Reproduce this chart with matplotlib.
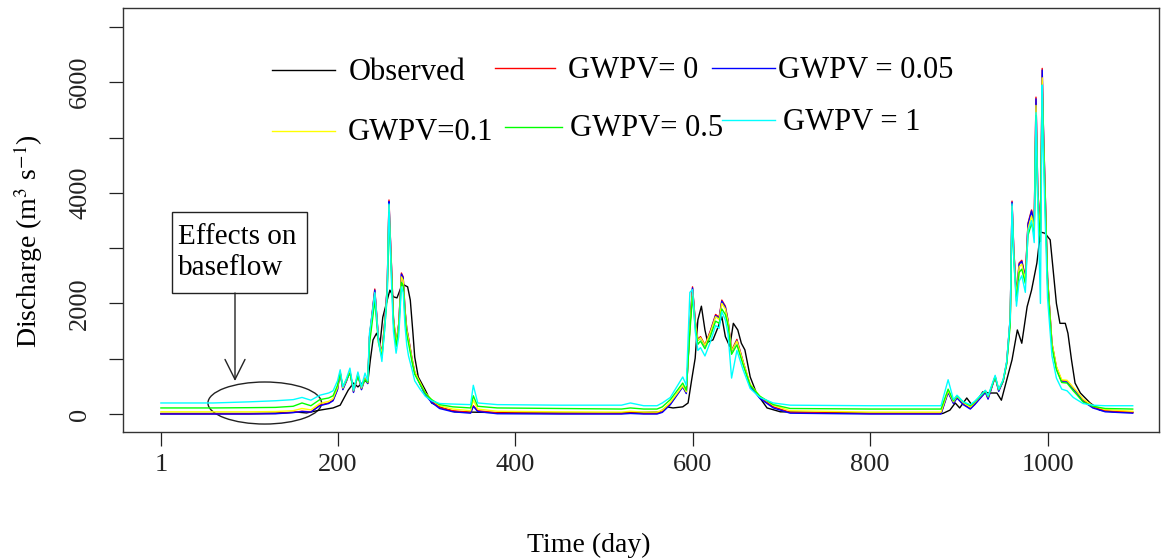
import matplotlib
matplotlib.use("Agg")
import matplotlib.pyplot as plt
from matplotlib.patches import Ellipse, Rectangle

plt.rcParams['font.family'] = ['Liberation Serif', 'DejaVu Serif']
plt.rcParams['mathtext.fontset'] = 'stix'

# Observed discharge (m3/s)
obs_days = [1, 50, 100, 130, 154, 165, 180, 195, 203, 212,
            218, 223, 231, 234, 237, 240, 244, 248, 251, 256,
            259, 263, 267, 273, 279, 282, 285, 287, 291, 299,
            306, 318, 332, 400, 500, 563, 571, 578, 589, 595,
            599, 603, 606, 610, 614, 617, 623, 629, 633, 637,
            642, 646, 651, 655, 659, 665, 672, 684, 699, 800,
            882, 890, 896, 901, 909, 915, 920, 927, 935, 943,
            948, 954, 960, 966, 971, 977, 982, 988, 992, 997,
            1003, 1006, 1010, 1014, 1020, 1023, 1027, 1031, 1037, 1048,
            1059, 1074, 1096]
obs_q = [10, 10, 10, 15, 35, 20, 70, 110, 160, 430,
         560, 490, 610, 560, 980, 1340, 1460, 1280, 1750, 2060,
         2240, 2120, 2100, 2350, 2300, 2060, 1460, 1030, 670, 430,
         200, 110, 40, 20, 15, 35, 130, 110, 130, 200,
         615, 1010, 1700, 1950, 1520, 1300, 1340, 1580, 1760, 1400,
         1220, 1640, 1520, 1280, 1160, 670, 380, 110, 40, 15,
         10, 70, 200, 110, 290, 160, 220, 400, 380, 380,
         250, 615, 980, 1520, 1280, 1940, 2240, 2730, 3290, 3270,
         3150, 2660, 2000, 1640, 1640, 1460, 980, 560, 380, 200,
         70, 40, 30]

# Simulated discharge for each GWPV value
sim_days = [1, 60, 100, 130, 150, 160, 170, 180, 190, 195,
            200, 203, 206, 210, 214, 218, 223, 227, 231, 234,
            236, 239, 242, 246, 250, 253, 256, 258, 259, 261,
            263, 266, 269, 272, 274, 276, 278, 280, 284, 287,
            293, 299, 306, 315, 330, 350, 353, 358, 380, 450,
            520, 530, 545, 560, 566, 575, 589, 593, 597, 600,
            603, 606, 609, 614, 620, 626, 630, 633, 637, 640,
            644, 650, 657, 665, 676, 691, 710, 800, 880, 888,
            894, 898, 905, 913, 918, 930, 933, 941, 945, 950,
            954, 958, 960, 962, 965, 968, 971, 975, 978, 982,
            985, 987, 989, 992, 994, 995, 997, 1000, 1005, 1010,
            1016, 1022, 1029, 1033, 1040, 1051, 1065, 1096]

q_gwpv_0 = [5, 5, 5, 10, 30, 50, 40, 160, 200, 250,
            450, 760, 450, 600, 780, 400, 720, 450, 650, 560,
            1400, 1820, 2260, 1400, 1100, 1640, 2300, 3870, 3420, 2600,
            1750, 1280, 1640, 2550, 2480, 1900, 1550, 1380, 1000, 760,
            560, 360, 230, 120, 60, 30, 150, 60, 20, 10,
            10, 20, 10, 10, 40, 180, 500, 380, 1600, 2300,
            1700, 1350, 1400, 1250, 1500, 1800, 1750, 2060, 1950, 1700,
            1150, 1350, 950, 520, 300, 130, 30, 10, 10, 400,
            200, 300, 180, 100, 180, 400, 280, 680, 420, 600,
            940, 1750, 3850, 2970, 2150, 2730, 2780, 2480, 3450, 3690,
            3450, 5730, 4050, 3300, 6250, 5400, 4230, 2480, 1280, 850,
            600, 600, 470, 400, 250, 130, 60, 30]

q_gwpv_005 = [0, 0, 0, 5, 25, 45, 35, 150, 190, 240,
              440, 750, 440, 590, 770, 390, 710, 440, 640, 550,
              1380, 1800, 2240, 1380, 1080, 1620, 2280, 3840, 3400, 2580,
              1730, 1260, 1620, 2530, 2460, 1880, 1530, 1360, 980, 740,
              540, 340, 210, 100, 40, 15, 140, 45, 5, 0,
              0, 10, 0, 0, 30, 170, 490, 370, 1580, 2280,
              1680, 1330, 1380, 1230, 1480, 1780, 1730, 2040, 1930, 1680,
              1130, 1330, 930, 500, 280, 110, 15, 0, 0, 390,
              190, 290, 170, 90, 170, 390, 270, 670, 410, 590,
              930, 1730, 3830, 2950, 2130, 2710, 2760, 2460, 3430, 3670,
              3430, 5700, 4030, 3280, 6220, 5380, 4210, 2460, 1260, 830,
              580, 580, 450, 380, 230, 110, 40, 15]

q_gwpv_01 = [40, 40, 40, 45, 60, 100, 75, 190, 230, 280,
             480, 760, 470, 610, 770, 420, 710, 470, 640, 570,
             1350, 1760, 2180, 1360, 1080, 1600, 2230, 3780, 3330, 2540,
             1720, 1270, 1610, 2480, 2420, 1860, 1520, 1350, 990, 760,
             570, 380, 260, 150, 90, 60, 250, 90, 50, 40,
             35, 50, 35, 35, 70, 210, 510, 400, 1560, 2230,
             1660, 1330, 1380, 1240, 1470, 1760, 1710, 2000, 1900, 1670,
             1140, 1320, 940, 540, 320, 160, 60, 35, 35, 420,
             220, 320, 210, 130, 210, 420, 310, 680, 440, 610,
             930, 1700, 3760, 2900, 2110, 2660, 2710, 2430, 3350, 3580,
             3360, 5580, 3960, 3230, 6080, 5260, 4130, 2440, 1280, 860,
             620, 610, 480, 410, 270, 150, 80, 50]

q_gwpv_05 = [110, 110, 115, 120, 140, 200, 150, 260, 290, 330,
             520, 740, 500, 620, 740, 460, 680, 500, 620, 580,
             1260, 1650, 2060, 1300, 1020, 1520, 2120, 3650, 3200, 2440,
             1650, 1220, 1540, 2380, 2320, 1780, 1440, 1280, 940, 720,
             540, 370, 260, 170, 130, 110, 330, 140, 110, 100,
             90, 110, 90, 90, 130, 260, 560, 430, 1480, 2130,
             1580, 1260, 1320, 1180, 1400, 1680, 1640, 1900, 1800, 1600,
             1080, 1250, 890, 520, 320, 170, 100, 90, 90, 450,
             240, 330, 220, 150, 220, 420, 320, 670, 440, 600,
             900, 1620, 3650, 2800, 2040, 2560, 2620, 2360, 3230, 3450,
             3240, 5400, 3840, 3120, 5900, 5100, 4000, 2360, 1210, 800,
             570, 560, 420, 350, 220, 140, 100, 90]

q_gwpv_1 = [200, 200, 220, 240, 260, 300, 250, 340, 380, 420,
            600, 800, 490, 640, 830, 430, 760, 490, 740, 600,
            1460, 1800, 2200, 1350, 950, 1500, 2200, 3800, 3300, 2300,
            1500, 1100, 1400, 2300, 2200, 1600, 1250, 1050, 800, 600,
            450, 320, 240, 190, 180, 170, 520, 200, 170, 160,
            160, 200, 150, 150, 200, 300, 670, 520, 2200, 2250,
            1500, 1150, 1200, 1050, 1300, 1600, 1550, 1850, 1700, 1450,
            650, 1150, 800, 460, 300, 200, 160, 150, 150, 620,
            260, 340, 220, 170, 230, 430, 330, 700, 450, 620,
            950, 1750, 3800, 2800, 1950, 2400, 2500, 2200, 3300, 3500,
            3100, 5450, 3800, 2000, 5950, 4900, 3700, 2100, 1050, 650,
            450, 420, 300, 260, 190, 160, 150, 150]

sim_series = [q_gwpv_0, q_gwpv_005, q_gwpv_01, q_gwpv_05, q_gwpv_1]
sim_labels = ["GWPV= 0", "GWPV = 0.05", "GWPV=0.1", "GWPV= 0.5", "GWPV = 1"]
sim_colors = ["#ff0000", "#0000ff", "#ffff00", "#00ff00", "#00ffff"]

x_ticks = [1, 200, 400, 600, 800, 1000]
y_ticks = [0, 1000, 2000, 3000, 4000, 5000, 6000, 7000]
y_ticklabels = ["0", "", "2000", "", "4000", "", "6000", ""]

fig = plt.figure(figsize=(11.61, 5.6), dpi=100)
ax = fig.add_axes([123 / 1161, 1 - 432 / 560, 1036 / 1161, 424 / 560])

# Hydrographs
ax.plot(obs_days, obs_q, color="black", lw=1.0)
for q, c in zip(sim_series, sim_colors):
    ax.plot(sim_days, q, color=c, lw=1.0)

ax.set_xlim(-41.7, 1125.6)
ax.set_ylim(-325, 7342)
ax.set_xticks(x_ticks)
ax.set_xticklabels([str(t) for t in x_ticks])
ax.set_yticks(y_ticks)
ax.set_yticklabels(y_ticklabels)
ax.tick_params(axis="both", direction="out", length=10, width=0.9,
               labelsize=19, colors="#222222")
ax.tick_params(axis="x", pad=6)
ax.tick_params(axis="y", pad=13)
for lab in ax.get_yticklabels():
    lab.set_rotation(90)
    lab.set_va("center")
for sp in ax.spines.values():
    sp.set_linewidth(1.0)
    sp.set_color("#333333")

ax.set_xlabel("Time (day)", fontsize=20)
ax.xaxis.set_label_coords(0.45, -0.2665)
ax.xaxis.label.set_va("center")
ax.set_ylabel("Discharge (m$^3$ s$^{-1}$)", fontsize=20)
ax.yaxis.set_label_coords(-0.0915, 0.45)
ax.yaxis.label.set_va("center")

# Hand placed legend (two rows, no frame)
def px(x, y):
    return (x - 123) / 1036, (432 - y) / 424

legend_items = [("Observed", "black", 272, 335, 349, 70),
                (sim_labels[0], sim_colors[0], 495, 555, 568, 68),
                (sim_labels[1], sim_colors[1], 712, 775, 778, 68),
                (sim_labels[2], sim_colors[2], 272, 335, 348, 131),
                (sim_labels[3], sim_colors[3], 505, 562, 570, 127),
                (sim_labels[4], sim_colors[4], 722, 775, 783, 120)]
for label, c, x0, x1, xt, yy in legend_items:
    a0, b0 = px(x0, yy)
    a1, _ = px(x1, yy)
    ax.plot([a0, a1], [b0, b0], color=c, lw=1.0, transform=ax.transAxes)
    at, bt = px(xt, yy + 2)
    ax.text(at, bt, label, transform=ax.transAxes, fontsize=22,
            ha="left", va="center")

# "Effects on baseflow" annotation
bx0, by0 = px(172, 293)
bx1, by1 = px(307, 212)
ax.add_patch(Rectangle((bx0, by0), bx1 - bx0, by1 - by0, transform=ax.transAxes,
                       fill=False, edgecolor="#222222", lw=1.0))
tx, ty = px(178, 237)
ax.text(tx, ty, "Effects on", transform=ax.transAxes, fontsize=21, va="center")
tx, ty = px(178, 268)
ax.text(tx, ty, "baseflow", transform=ax.transAxes, fontsize=21, va="center")
ax.annotate("", xy=px(235, 381), xytext=px(235, 293),
            xycoords="axes fraction", textcoords="axes fraction",
            arrowprops=dict(arrowstyle="->,head_length=0.6,head_width=0.3",
                            color="#222222", lw=1.0, mutation_scale=24,
                            shrinkA=0, shrinkB=0))
ax.add_patch(Ellipse((118, 199), 128, 760, fill=False, edgecolor="#222222", lw=1.0))

plt.savefig("out.png", dpi=100)
